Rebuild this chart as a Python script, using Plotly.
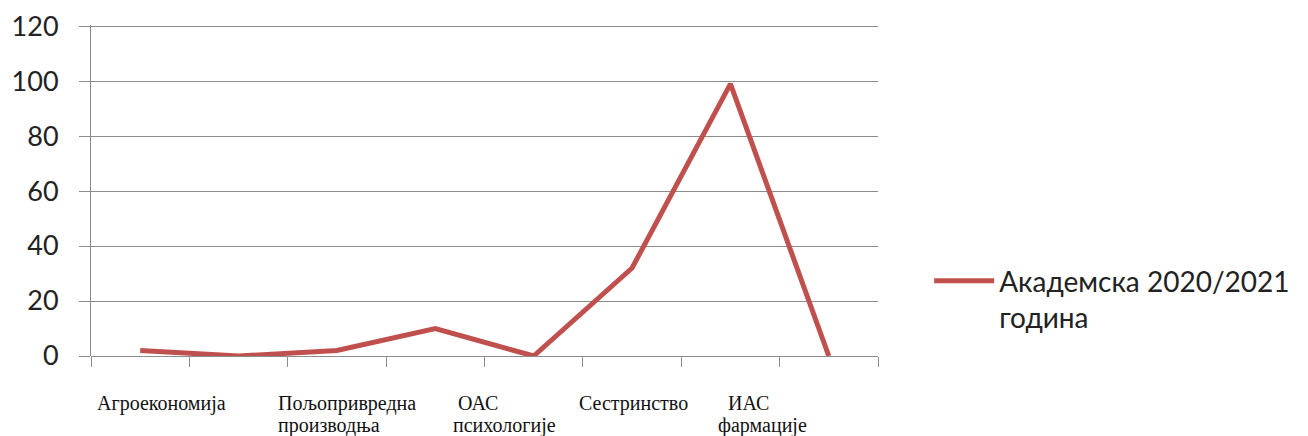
import plotly.graph_objects as go

categories = ["Агроекономија", "", "Пољопривредна<br>производња", "", "ОАС<br>психологије", "Сестринство", "ИАС<br>фармације", ""]
values = [2, 0, 2, 10, 0, 32, 99, 0]
series_name = "Академска 2020/2021<br>година"
y_ticks = [0, 20, 40, 60, 80, 100, 120]

# label layout (left edges in category units) for visible labels, plus per-line pixel indents
label_x = [-0.46, None, 1.38, None, 3.16, 4.44, 5.85, None]
line_indent = [[0], None, [0, 0], None, [5, 0], [0], [10, 0], None]

x_idx = list(range(len(categories)))

fig = go.Figure()
fig.add_trace(go.Scatter(
    x=x_idx, y=values, mode="lines", name=series_name,
    line=dict(color="#C0504D", width=5), showlegend=True,
))

grid = "#8c8c8c"
fig.update_layout(
    width=1300, height=428,
    margin=dict(l=83, r=430, t=17, b=80, autoexpand=False),
    paper_bgcolor="white", plot_bgcolor="white",
    font=dict(family="Lato, Carlito, sans-serif", color="#222222"),
    xaxis=dict(
        range=[-0.5, len(categories) - 0.5], showgrid=False, zeroline=False,
        showline=False, showticklabels=False, ticks="", automargin=False,
        minor=dict(tickvals=[i - 0.5 for i in range(len(categories) + 1)],
                   ticks="outside", ticklen=10, tickcolor=grid, tickwidth=1),
    ),
    yaxis=dict(
        range=[0, 120.4], tickvals=y_ticks, showgrid=True, gridcolor=grid, gridwidth=1,
        zeroline=True, zerolinecolor=grid, zerolinewidth=1,
        showline=True, linecolor=grid, linewidth=1, automargin=False,
        ticks="outside", ticklen=11, tickcolor=grid,
        tickfont=dict(size=27, family="Lato, Carlito, sans-serif", color="#222222"),
        ticklabelstandoff=15, ticklabeloverflow="allow",
    ),
    legend=dict(
        x=1.065, y=0.172, xanchor="left", yanchor="middle", valign="top",
        font=dict(size=28, family="Lato, Carlito, sans-serif", color="#222222"),
        bgcolor="rgba(0,0,0,0)", itemwidth=60,
    ),
)

for lx, lab, ind in zip(label_x, categories, line_indent):
    if lx is None or not lab:
        continue
    for li, part in enumerate(lab.split("<br>")):
        fig.add_annotation(
            x=lx, y=0, xref="x", yref="y", yshift=-47 - 22 * li, xshift=ind[li],
            text=part, showarrow=False, xanchor="left", yanchor="middle", align="left",
            font=dict(family="Liberation Serif, Times New Roman, serif", size=20, color="#111111"),
        )

fig.write_html("out.html")
